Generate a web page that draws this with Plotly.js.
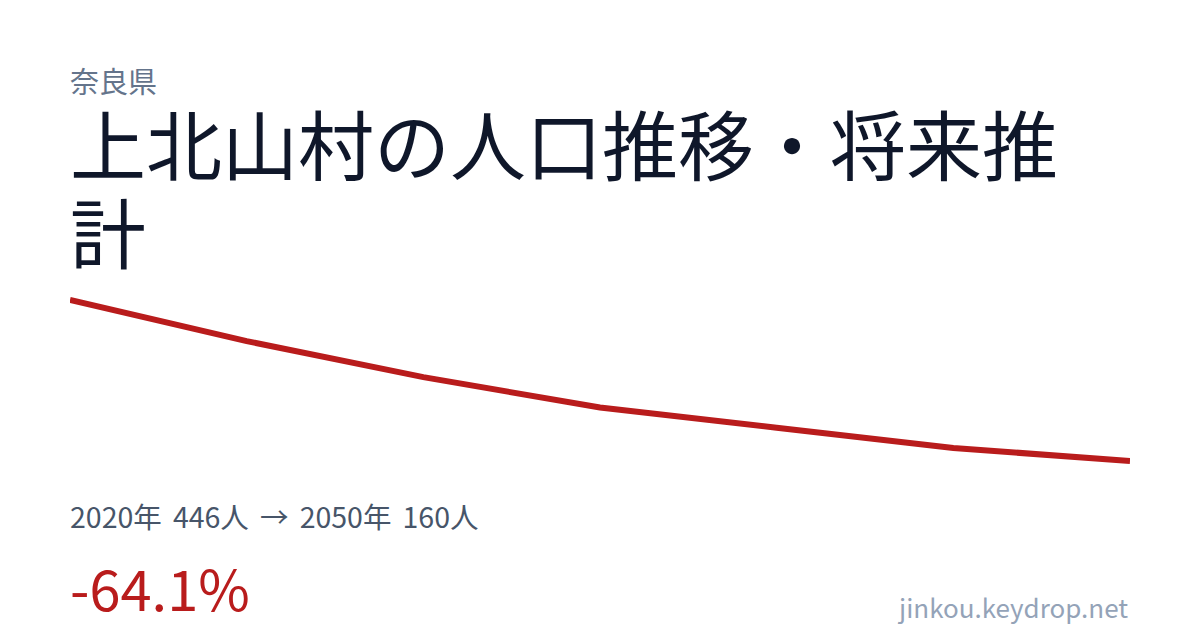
<!DOCTYPE html>
<html>
<head>
<meta charset="utf-8">
<script src="https://cdn.plot.ly/plotly-3.0.1.min.js"></script>
<style>html,body{margin:0;padding:0;background:#fff;}#chart{width:1200px;height:630px;}</style>
</head>
<body>
<div id="chart"></div>
<script>
const years = [2020, 2025, 2030, 2035, 2040, 2045, 2050];
const population = [446, 373, 309, 255, 219, 183, 160];
const prefecture = "奈良県";
const titleLine1 = "上北山村の人口推移・将来推";
const titleLine2 = "計";
const SP = "\u00a0\u2006";
const summaryText = "2020年" + SP + "446人" + SP + "→" + SP + "2050年" + SP + "160人";
const changeText = "-64.1%";
const footerText = "jinkou.keydrop.net";

const W = 1200, H = 630;
const mL = 70, mR = 70, mT = 290, mB = 159;
const plotH = H - mT - mB;
function py(Y) { return (H - mB - Y) / plotH; }
function px(X) { return (X - mL) / (W - mL - mR); }

const font = "'Noto Sans CJK JP', 'Noto Sans', sans-serif";

const trace = {
  x: years,
  y: population,
  type: 'scatter',
  mode: 'lines',
  line: { color: '#b91c1c', width: 6 },
  hoverinfo: 'skip'
};

const layout = {
  width: W, height: H,
  margin: { l: mL, r: mR, t: mT, b: mB, pad: 0 },
  paper_bgcolor: '#ffffff',
  plot_bgcolor: '#ffffff',
  showlegend: false,
  xaxis: { range: [2020, 2050], visible: false, fixedrange: true },
  yaxis: { range: [142.2, 463.8], visible: false, fixedrange: true },
  annotations: [
    { text: prefecture, xref: 'paper', yref: 'paper', x: px(68), y: py(80), xanchor: 'left', yanchor: 'middle', showarrow: false, font: { family: font, size: 29, color: '#64748b' } },
    { text: titleLine1, xref: 'paper', yref: 'paper', x: px(68), y: py(142), xanchor: 'left', yanchor: 'middle', showarrow: false, font: { family: font, size: 76, color: '#0f172a' } },
    { text: titleLine2, xref: 'paper', yref: 'paper', x: px(68), y: py(230), xanchor: 'left', yanchor: 'middle', showarrow: false, font: { family: font, size: 76, color: '#0f172a' } },
    { text: summaryText, xref: 'paper', yref: 'paper', x: px(68), y: py(515), xanchor: 'left', yanchor: 'middle', showarrow: false, font: { family: font, size: 28.5, color: '#475569' } },
    { text: changeText, xref: 'paper', yref: 'paper', x: px(68), y: py(586), xanchor: 'left', yanchor: 'middle', showarrow: false, font: { family: font, size: 56, color: '#b91c1c' } },
    { text: footerText, xref: 'paper', yref: 'paper', x: px(1130), y: py(606), xanchor: 'right', yanchor: 'middle', showarrow: false, font: { family: font, size: 26, color: '#94a3b8' } }
  ]
};

Plotly.newPlot('chart', [trace], layout, { staticPlot: true, displayModeBar: false });
</script>
</body>
</html>
